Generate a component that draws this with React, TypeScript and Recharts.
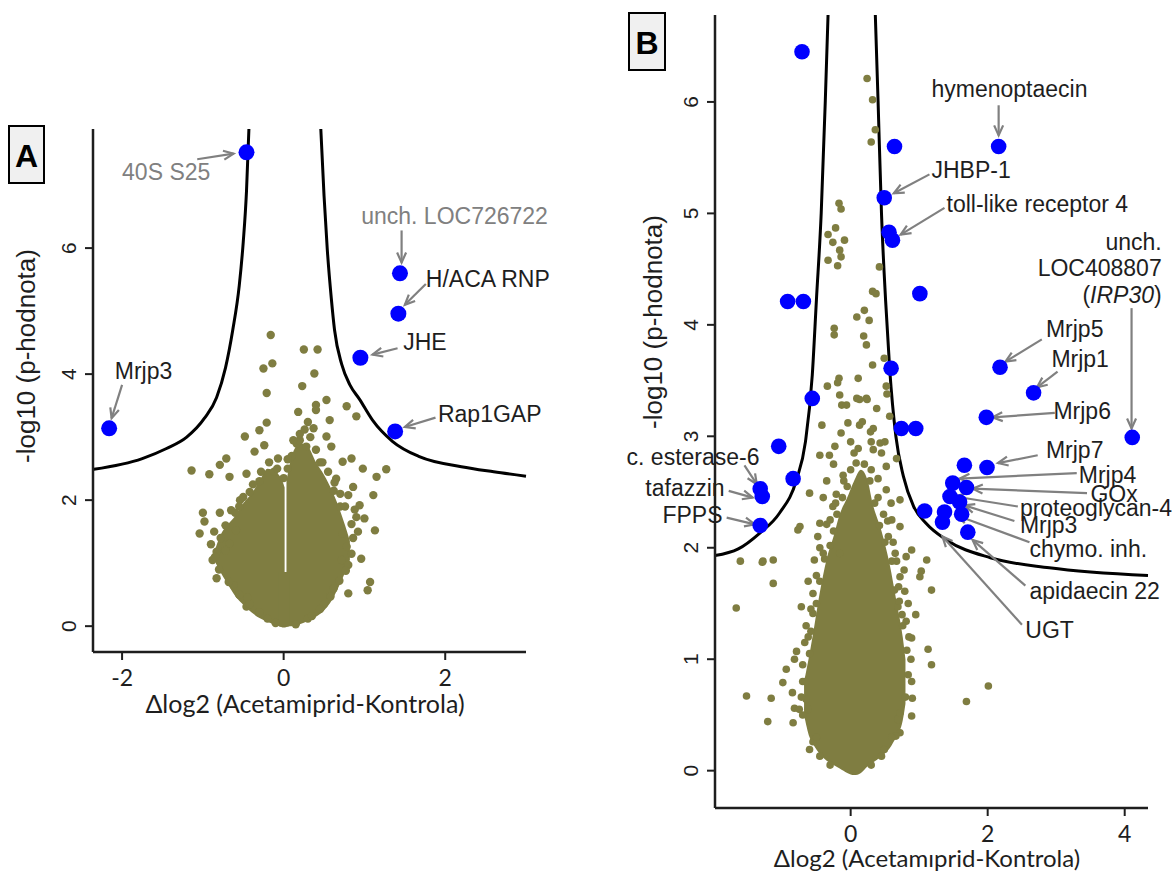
import React from "react"
import {
  ComposedChart,
  Scatter,
  Line,
  Area,
  XAxis,
  YAxis,
  ReferenceLine,
  ReferenceDot,
} from "recharts"

const OLIVE = "#7f7d41"
const BLUE = "#0000ff"
const GRAY = "#808080"
const INK = "#1e1e1e"
const SANS = "'Liberation Sans', Arial, sans-serif"
const CALI = "Lato, 'Open Sans', sans-serif"

type Pt = [number, number]
type Band = [number, number, number] // x, low, high
type Arw = [number, number, number, number]
type Lbl = { parts: [string, boolean][]; x: number; y: number; anchor?: "start" | "end"; gray?: boolean }

// ---------- panel A ----------
const aTicksX = [-2, 0, 2]
const aTicksY = [0, 2, 4, 6]

const aCoreLeft: Band[] = [
  [-0.84, 1.0, 1.25], [-0.78, 0.85, 1.45], [-0.7, 0.68, 1.6], [-0.6, 0.48, 1.75], [-0.5, 0.34, 1.95],
  [-0.4, 0.22, 2.1], [-0.3, 0.13, 2.3], [-0.2, 0.07, 2.5], [-0.1, 0.02, 2.45], [0.0, -0.01, 2.25],
  [0.012, 0.0, 2.2],
]
const aCoreRight: Band[] = [
  [0.035, 0.0, 2.3], [0.1, 0.0, 2.7], [0.2, 0.03, 2.9], [0.3, 0.08, 2.85], [0.4, 0.15, 2.6],
  [0.5, 0.25, 2.4], [0.6, 0.42, 2.15], [0.68, 0.62, 1.9], [0.76, 0.85, 1.6], [0.82, 1.05, 1.35],
]
const aCoreBase: Band[] = [[-0.06, 0.0, 0.86], [0.0, -0.02, 0.86], [0.07, 0.0, 0.86]]

const aGreen: Pt[] = [
  [-0.16, 4.62], [0.25, 4.39], [0.42, 4.39], [-0.14, 4.17], [-0.25, 4.09], [0.38, 4.01], [0.23, 3.81],
  [-0.21, 3.7], [0.53, 3.59], [0.4, 3.51], [0.78, 3.49], [0.9, 3.33], [0.18, 3.4], [0.4, 3.43],
  [-0.21, 3.23], [-0.3, 3.11], [-0.48, 3.01], [0.3, 3.24], [0.37, 3.14], [0.57, 3.27], [0.53, 3.01],
  [0.59, 2.85], [-0.36, 2.77], [-0.24, 2.87], [0.16, 2.9], [-0.71, 2.66], [-0.79, 2.56], [-1.14, 2.47],
  [-0.92, 2.41], [-0.67, 2.37], [0.84, 2.66], [0.98, 2.5], [1.27, 2.49], [1.15, 2.37], [0.73, 2.61],
  [-0.46, 2.42], [-0.07, 2.66], [0.65, 2.34], [1.11, 2.08], [0.86, 2.21], [0.94, 1.92], [1.0, 1.71],
  [1.13, 1.52], [0.96, 1.07], [0.8, 0.97], [1.07, 0.7], [1.04, 0.57], [0.8, 0.52], [-1.0, 1.8],
  [-0.98, 1.66], [-1.04, 1.47], [-0.79, 1.8], [-0.65, 1.84], [-0.83, 1.18], [-0.88, 1.05], [-0.83, 0.76],
  [-0.46, 0.31], [-0.54, 2.0], [-0.42, 2.13], [0.8, 2.08], [0.9, 1.73], [0.73, 1.47], [0.78, 1.26],
  [-0.59, 1.52], [-0.67, 1.31], [-0.3, 2.3], [-0.12, 2.45], [0.1, 2.7], [0.28, 2.85], [0.45, 2.6],
  [0.62, 2.15], [0.7, 1.9], [0.72, 1.05], [0.62, 0.6], [0.5, 0.35], [0.3, 0.12], [-0.2, 0.12],
  [-0.45, 0.45], [-0.62, 0.65], [-0.72, 1.2], [-0.55, 1.9], [0.2, 2.95], [0.05, 2.5],
  [-0.85, 1.1], [-0.8, 0.9], [-0.78, 1.4], [-0.72, 1.6], [-0.68, 0.7], [-0.6, 1.8], [-0.55, 0.5],
  [-0.5, 2.05], [-0.42, 0.35], [-0.38, 2.25], [-0.3, 0.22], [-0.28, 2.45], [-0.18, 2.6], [-0.1, 0.05],
  [-0.08, 2.5], [0.0, 2.35], [0.05, 2.65], [0.12, 2.95], [0.2, 3.05], [0.26, 3.12], [0.33, 3.0],
  [0.4, 2.8], [0.48, 2.6], [0.55, 2.45], [0.63, 2.28], [0.7, 2.1], [0.76, 1.9], [0.84, 1.62],
  [0.86, 1.4], [0.84, 1.15], [0.77, 0.88], [0.69, 0.72], [0.58, 0.47], [0.45, 0.27], [0.35, 0.16],
  [0.15, 0.03], [-0.9, 1.3], [-0.86, 1.5], [0.88, 1.85], [0.92, 1.5],
]
const aBlue: Pt[] = [[-0.46, 7.52], [1.44, 5.6], [1.42, 4.96], [0.95, 4.26], [1.38, 3.09], [-2.16, 3.14]]

const aCurveLeft: Pt[] = [
  [-2.35, 2.49], [-1.75, 2.66], [-1.45, 2.82], [-1.2, 3.0], [-0.98, 3.3], [-0.83, 3.63],
  [-0.72, 4.1], [-0.63, 4.7], [-0.55, 5.4], [-0.5, 6.1], [-0.46, 6.9], [-0.43, 7.89],
]
const aCurveRight: Pt[] = [
  [0.46, 7.89], [0.5, 6.83], [0.54, 5.98], [0.59, 5.2], [0.63, 4.7], [0.72, 4.15], [0.82, 3.83],
  [0.94, 3.6], [1.1, 3.27], [1.35, 2.93], [1.68, 2.69], [2.2, 2.53], [2.6, 2.45], [3.0, 2.38],
]

const aLabels: Lbl[] = [
  { parts: [["40S S25", false]], x: -2.0, y: 7.2, gray: true },
  { parts: [["unch. LOC726722", false]], x: 0.96, y: 6.51, gray: true },
  { parts: [["H/ACA RNP", false]], x: 1.76, y: 5.51 },
  { parts: [["JHE", false]], x: 1.48, y: 4.51 },
  { parts: [["Rap1GAP", false]], x: 1.91, y: 3.36 },
  { parts: [["Mrjp3", false]], x: -2.09, y: 4.05 },
]
const aArrows: Arw[] = [
  [-1.07, 7.41, -0.62, 7.5], [1.46, 6.28, 1.46, 5.77], [1.76, 5.43, 1.5, 5.1],
  [1.41, 4.41, 1.1, 4.31], [1.88, 3.31, 1.5, 3.16], [-2.0, 3.83, -2.13, 3.3],
]

// ---------- panel B ----------
const bTicksX = [0, 2, 4]
const bTicksY = [0, 1, 2, 3, 4, 5, 6]

const bCore: Band[] = [
  [-0.68, 0.5, 0.8], [-0.6, 0.3, 1.05], [-0.53, 0.22, 1.3], [-0.45, 0.15, 1.6], [-0.35, 0.09, 1.9],
  [-0.25, 0.05, 2.1], [-0.16, 0.02, 2.3], [-0.05, -0.02, 2.45], [0.05, -0.04, 2.6], [0.15, -0.02, 2.7],
  [0.25, 0.04, 2.6], [0.32, 0.07, 2.4], [0.45, 0.13, 2.15], [0.57, 0.2, 1.85], [0.66, 0.3, 1.55],
  [0.76, 0.45, 1.2], [0.8, 0.6, 1.0],
]

const bGreen: Pt[] = [
  [0.24, 6.21], [0.32, 6.02], [0.36, 5.75], [0.3, 5.64], [-0.17, 5.09], [-0.14, 5.04], [-0.22, 4.87],
  [-0.33, 4.81], [-0.26, 4.74], [-0.09, 4.76], [-0.16, 4.67], [-0.14, 4.61], [-0.33, 4.58], [-0.19, 4.53],
  [0.42, 4.52], [0.32, 4.3], [0.37, 4.28], [0.2, 4.13], [0.09, 4.07], [0.27, 4.04], [-0.24, 3.97],
  [-0.24, 3.91], [0.19, 3.9], [0.23, 3.82], [0.32, 3.64], [0.49, 3.7], [-0.17, 3.52], [0.11, 3.52],
  [-0.34, 3.45], [-0.16, 3.37], [0.09, 3.34], [0.23, 3.34], [-0.13, 3.28], [0.52, 3.45], [0.53, 3.38],
  [0.57, 3.18], [-0.42, 3.1], [-0.04, 3.12], [0.17, 3.13], [0.29, 3.04], [-0.14, 3.03], [0.43, 2.94],
  [-0.19, 3.48], [0.13, 3.33], [0.24, 3.33], [0.38, 3.25], [-0.06, 3.28], [0.13, 3.1], [0.33, 3.07],
  [0.5, 2.95], [0.11, 2.89], [-0.45, 2.83], [-0.31, 2.83], [-0.23, 2.91], [0.33, 2.88], [0.08, 2.76],
  [0.52, 2.73], [-0.11, 2.65], [-0.6, 2.49], [-0.21, 2.48], [0.67, 2.8], [0.52, 2.52], [0.59, 2.4],
  [0.72, 2.43], [-0.26, 2.37], [-0.45, 2.22], [-0.35, 2.21], [-0.74, 2.19], [-0.77, 2.16], [-0.48, 2.1],
  [-0.53, 1.89], [-0.16, 1.95], [-1.28, 1.88], [-1.13, 1.89], [-1.13, 1.68], [0.54, 2.24], [0.72, 2.19],
  [0.89, 1.98], [0.81, 1.92], [0.67, 1.88], [1.11, 1.89], [1.03, 1.79], [1.01, 1.74], [1.18, 1.62],
  [0.72, 1.74], [0.79, 1.61], [0.69, 1.47], [0.81, 1.34], [0.89, 1.19], [1.13, 1.09], [1.18, 0.95],
  [0.89, 0.8], [0.89, 0.49], [1.69, 0.62], [-0.55, 1.59], [-0.72, 1.47], [-0.55, 1.41], [-0.67, 1.15],
  [-0.79, 1.07], [-0.82, 1.0], [-0.94, 0.91], [-0.7, 0.8], [-0.99, 0.79], [-1.16, 0.65], [-0.82, 0.56],
  [-1.21, 0.44], [-0.84, 0.43], [-0.7, 0.5], [-0.65, 0.64], [0.69, 0.46], [0.72, 0.34], [-1.61, 1.88],
  [-1.67, 1.46], [-1.52, 0.67], [-1.29, 1.87], [2.01, 0.76], [-0.6, 0.19], [0.49, 0.19], [0.66, 0.31],
  [-0.62, 0.55], [-0.66, 0.8], [-0.6, 1.05], [-0.58, 1.25], [-0.5, 1.5], [-0.45, 1.7], [-0.38, 1.9],
  [-0.3, 2.02], [-0.25, 2.15], [-0.2, 2.3], [-0.12, 2.45], [-0.05, 2.55], [0.0, 2.7], [0.05, 2.85],
  [0.2, 2.75], [0.28, 2.6], [0.35, 2.4], [0.42, 2.2], [0.5, 2.05], [0.6, 1.88], [0.64, 1.62],
  [0.71, 1.52], [0.76, 1.3], [0.82, 1.08], [0.84, 0.86], [0.8, 0.66], [0.72, 0.52], [0.6, 0.3],
  [0.45, 0.13], [0.3, 0.05], [-0.3, 0.05], [-0.45, 0.13], [-0.55, 0.26], [-0.72, 0.66], [-0.5, 0.3],
  [-0.4, 2.45], [0.4, 2.62], [-0.35, 2.6], [0.0, 2.95], [0.62, 2.05], [-0.62, 1.7], [0.78, 1.8],
  [-0.4, 1.95], [-0.3, 2.25], [-0.22, 2.4], [-0.1, 2.6], [0.3, 2.7], [0.4, 2.45], [0.48, 2.3],
  [0.55, 2.1], [0.65, 1.95], [0.7, 1.65], [0.75, 1.4], [-0.5, 1.75], [-0.58, 1.45], [-0.65, 1.3],
  [-0.7, 0.95], [0.85, 1.2], [0.88, 1.0], [0.9, 0.65], [-0.75, 0.55], [0.95, 1.4], [-0.85, 0.7],
  [0.3, 2.95], [-0.25, 2.75], [0.45, 2.85], [-0.45, 2.0], [0.6, 2.25], [0.84, 1.5], [-0.62, 1.2],
]
const bBlue: Pt[] = [
  [-0.71, 6.45], [2.16, 5.6], [0.64, 5.6], [0.49, 5.14], [0.56, 4.83], [0.61, 4.76], [1.01, 4.28],
  [-0.92, 4.21], [-0.69, 4.21], [0.59, 3.61], [2.18, 3.62], [2.67, 3.39], [-0.56, 3.34], [1.98, 3.17],
  [0.74, 3.07], [0.95, 3.07], [4.11, 2.99], [-1.05, 2.91], [-0.84, 2.62], [-1.32, 2.53], [-1.29, 2.46],
  [-1.32, 2.2], [1.66, 2.74], [1.99, 2.72], [1.49, 2.58], [1.69, 2.54], [1.45, 2.46], [1.59, 2.41],
  [1.37, 2.32], [1.62, 2.3], [1.34, 2.23], [1.71, 2.14], [1.08, 2.33],
]

const bCurveLeft: Pt[] = [
  [-1.98, 1.93], [-1.64, 1.99], [-1.33, 2.13], [-1.04, 2.31], [-0.79, 2.61], [-0.66, 2.95],
  [-0.56, 3.55], [-0.5, 4.22], [-0.43, 5.0], [-0.37, 6.01], [-0.33, 6.78],
]
const bCurveRight: Pt[] = [
  [0.36, 6.78], [0.4, 6.01], [0.45, 5.0], [0.51, 4.22], [0.57, 3.6], [0.66, 3.0], [0.77, 2.64],
  [0.92, 2.37], [1.1, 2.22], [1.4, 2.07], [2.04, 1.91], [2.9, 1.82], [4.34, 1.75],
]

const bLabels: Lbl[] = [
  { parts: [["hymenoptaecin", false]], x: 1.18, y: 6.12 },
  { parts: [["JHBP-1", false]], x: 1.18, y: 5.39 },
  { parts: [["toll-like receptor 4", false]], x: 1.4, y: 5.08 },
  { parts: [["unch.", false]], x: 4.54, y: 4.74, anchor: "end" },
  { parts: [["LOC408807", false]], x: 4.54, y: 4.51, anchor: "end" },
  { parts: [["(", false], ["IRP30", true], [")", false]], x: 4.54, y: 4.27, anchor: "end" },
  { parts: [["Mrjp5", false]], x: 2.85, y: 3.96 },
  { parts: [["Mrjp1", false]], x: 2.93, y: 3.69 },
  { parts: [["Mrjp6", false]], x: 2.96, y: 3.23 },
  { parts: [["Mrjp7", false]], x: 2.85, y: 2.88 },
  { parts: [["Mrjp4", false]], x: 3.33, y: 2.65 },
  { parts: [["GOx", false]], x: 3.5, y: 2.48 },
  { parts: [["proteoglycan-4", false]], x: 2.47, y: 2.36 },
  { parts: [["Mrjp3", false]], x: 2.47, y: 2.2 },
  { parts: [["chymo. inh.", false]], x: 2.61, y: 1.99 },
  { parts: [["apidaecin 22", false]], x: 2.61, y: 1.61 },
  { parts: [["UGT", false]], x: 2.55, y: 1.26 },
  { parts: [["c. esterase-6", false]], x: -1.33, y: 2.81, anchor: "end" },
  { parts: [["tafazzin", false]], x: -1.84, y: 2.54, anchor: "end" },
  { parts: [["FPPS", false]], x: -1.87, y: 2.29, anchor: "end" },
]
const bArrows: Arw[] = [
  [2.16, 5.97, 2.16, 5.7], [1.15, 5.35, 0.63, 5.18], [1.37, 5.05, 0.73, 4.81], [4.1, 4.15, 4.1, 3.07],
  [2.79, 3.87, 2.26, 3.67], [3.02, 3.58, 2.72, 3.44], [2.98, 3.21, 2.07, 3.17], [2.73, 2.83, 2.15, 2.76],
  [3.3, 2.67, 1.59, 2.62], [3.45, 2.49, 1.78, 2.53], [2.44, 2.37, 1.52, 2.46], [2.39, 2.24, 1.66, 2.38],
  [2.61, 2.05, 1.55, 2.29], [2.55, 1.66, 1.78, 2.07], [2.5, 1.31, 1.34, 2.1],
  [-1.55, 2.74, -1.37, 2.57], [-1.78, 2.51, -1.43, 2.45], [-1.81, 2.27, -1.4, 2.21],
]

const toPts = (p: Pt[]) => p.map(([x, y]) => ({ x, y }))
const toBand = (b: Band[]) => b.map(([x, lo, hi]) => ({ x, range: [lo, hi] }))

const dot = (r: number, fill: string) => (p: any) => <circle cx={p.cx} cy={p.cy} r={r} fill={fill} />

function Arrow(p: any) {
  const { x1, y1, x2, y2 } = p
  const ang = Math.atan2(y2 - y1, x2 - x1)
  const h = 11
  const w = 0.42
  const ax = x2 - h * Math.cos(ang - w)
  const ay = y2 - h * Math.sin(ang - w)
  const bx = x2 - h * Math.cos(ang + w)
  const by = y2 - h * Math.sin(ang + w)
  return (
    <g>
      <line x1={x1} y1={y1} x2={x2} y2={y2} stroke={GRAY} strokeWidth={2.2} />
      <polyline points={`${ax},${ay} ${x2},${y2} ${bx},${by}`} fill="none" stroke={GRAY} strokeWidth={2.2} />
    </g>
  )
}

const labelShape = (l: Lbl) => (p: any) => (
  <text
    x={p.cx}
    y={p.cy}
    textAnchor={l.anchor ?? "start"}
    dominantBaseline="central"
    fontFamily={SANS}
    fontSize={23}
    fill={l.gray ? GRAY : INK}
  >
    {l.parts.map(([s, it], i) => (
      <tspan key={i} fontStyle={it ? "italic" : "normal"}>{s}</tspan>
    ))}
  </text>
)

const XTick = (p: any) => (
  <text x={p.x} y={p.y + 15} textAnchor="middle" dominantBaseline="central" fontFamily={CALI} fontSize={23} fill={INK}>
    {p.payload.value}
  </text>
)
const YTick = (p: any) => {
  const cx = p.x - 14
  return (
    <text
      x={cx}
      y={p.y}
      transform={`rotate(-90 ${cx} ${p.y})`}
      textAnchor="middle"
      dominantBaseline="central"
      fontFamily={SANS}
      fontSize={21}
      fill={INK}
    >
      {p.payload.value}
    </text>
  )
}

type PanelProps = {
  width: number
  height: number
  margin: { top: number; right: number; bottom: number; left: number }
  yWidth: number
  xDomain: [number, number]
  yDomain: [number, number]
  xTicks: number[]
  yTicks: number[]
  core: Band[][]
  green: Pt[]
  blue: Pt[]
  curves: Pt[][]
  labels: Lbl[]
  arrows: Arw[]
  greenR: number
  blueR: number
}

function Panel(props: PanelProps) {
  const axisLine = { stroke: INK, strokeWidth: 2.5 }
  const tickLine = { stroke: INK, strokeWidth: 2 }
  return (
    <ComposedChart width={props.width} height={props.height} margin={props.margin} style={{ overflow: "visible" }}>
      <XAxis
        type="number"
        dataKey="x"
        domain={props.xDomain}
        ticks={props.xTicks}
        interval={0}
        tickSize={8}
        height={50}
        axisLine={axisLine}
        tickLine={tickLine}
        tick={XTick}
      />
      <YAxis
        type="number"
        domain={props.yDomain}
        ticks={props.yTicks}
        interval={0}
        tickSize={8}
        width={props.yWidth}
        axisLine={axisLine}
        tickLine={tickLine}
        tick={YTick}
      />
      {props.core.map((c, i) => (
        <Area
          key={"core" + i}
          data={toBand(c)}
          dataKey="range"
          type="monotone"
          stroke="none"
          fill={OLIVE}
          fillOpacity={1}
          isAnimationActive={false}
        />
      ))}
      <Scatter data={toPts(props.green)} dataKey="y" shape={dot(props.greenR, OLIVE)} isAnimationActive={false} />
      {props.curves.map((c, i) => (
        <Line
          key={"curve" + i}
          data={toPts(c)}
          dataKey="y"
          type="monotone"
          stroke="#000"
          strokeWidth={3}
          dot={false}
          activeDot={false}
          isAnimationActive={false}
        />
      ))}
      <Scatter data={toPts(props.blue)} dataKey="y" shape={dot(props.blueR, BLUE)} isAnimationActive={false} />
      {props.arrows.map((a, i) => (
        <ReferenceLine
          key={"arw" + i}
          segment={[{ x: a[0], y: a[1] }, { x: a[2], y: a[3] }]}
          ifOverflow="visible"
          shape={Arrow}
        />
      ))}
      {props.labels.map((l, i) => (
        <ReferenceDot key={"lbl" + i} x={l.x} y={l.y} r={0} ifOverflow="visible" shape={labelShape(l)} />
      ))}
    </ComposedChart>
  )
}

function Tag({ x, y, w, h, letter }: { x: number; y: number; w: number; h: number; letter: string }) {
  return (
    <g>
      <rect x={x} y={y} width={w} height={h} fill="#f0f0f0" stroke="#000" strokeWidth={2} />
      <text x={x + w / 2} y={y + h / 2 + 1} textAnchor="middle" dominantBaseline="central" fontFamily={SANS} fontWeight="bold" fontSize={32} fill="#000">
        {letter}
      </text>
    </g>
  )
}

export default function App() {
  return (
    <div style={{ position: "absolute", left: 0, top: 0, width: 1172, height: 875, background: "#fff" }}>
      <div style={{ position: "absolute", left: 0, top: 0 }}>
        <Panel
          width={560}
          height={875}
          margin={{ top: 129, right: 34, bottom: 173, left: 0 }}
          yWidth={93}
          xDomain={[-2.36, 3.0]}
          yDomain={[-0.41, 7.89]}
          xTicks={aTicksX}
          yTicks={aTicksY}
          core={[aCoreLeft, aCoreRight, aCoreBase]}
          green={aGreen}
          blue={aBlue}
          curves={[aCurveLeft, aCurveRight]}
          labels={aLabels}
          arrows={aArrows}
          greenR={4.2}
          blueR={8}
        />
      </div>
      <div style={{ position: "absolute", left: 560, top: 0 }}>
        <Panel
          width={612}
          height={875}
          margin={{ top: 15, right: 24, bottom: 17, left: 100 }}
          yWidth={55}
          xDomain={[-1.98, 4.34]}
          yDomain={[-0.335, 6.78]}
          xTicks={bTicksX}
          yTicks={bTicksY}
          core={[bCore]}
          green={bGreen}
          blue={bBlue}
          curves={[bCurveLeft, bCurveRight]}
          labels={bLabels}
          arrows={bArrows}
          greenR={3.8}
          blueR={7.8}
        />
      </div>
      <svg width={1172} height={875} style={{ position: "absolute", left: 0, top: 0, pointerEvents: "none" }}>
        <Tag x={9} y={126} w={35} h={57} letter="A" />
        <Tag x={629} y={13} w={36} h={57} letter="B" />
        <text x={26} y={356} transform="rotate(-90 26 356)" textAnchor="middle" dominantBaseline="central" fontFamily={SANS} fontSize={26} fill={INK}>
          -log10 (p-hodnota)
        </text>
        <text x={653} y={322} transform="rotate(-90 653 322)" textAnchor="middle" dominantBaseline="central" fontFamily={SANS} fontSize={26} fill={INK}>
          -log10 (p-hodnota)
        </text>
        <text x={305} y={703} textAnchor="middle" dominantBaseline="central" fontFamily={CALI} fontSize={25} fill={INK}>
          Δlog2 (Acetamiprid-Kontrola)
        </text>
        <text x={927} y={857} textAnchor="middle" dominantBaseline="central" fontFamily={CALI} fontSize={24} fill={INK}>
          Δlog2 (Acetamıprid-Kontrola)
        </text>
      </svg>
    </div>
  )
}
